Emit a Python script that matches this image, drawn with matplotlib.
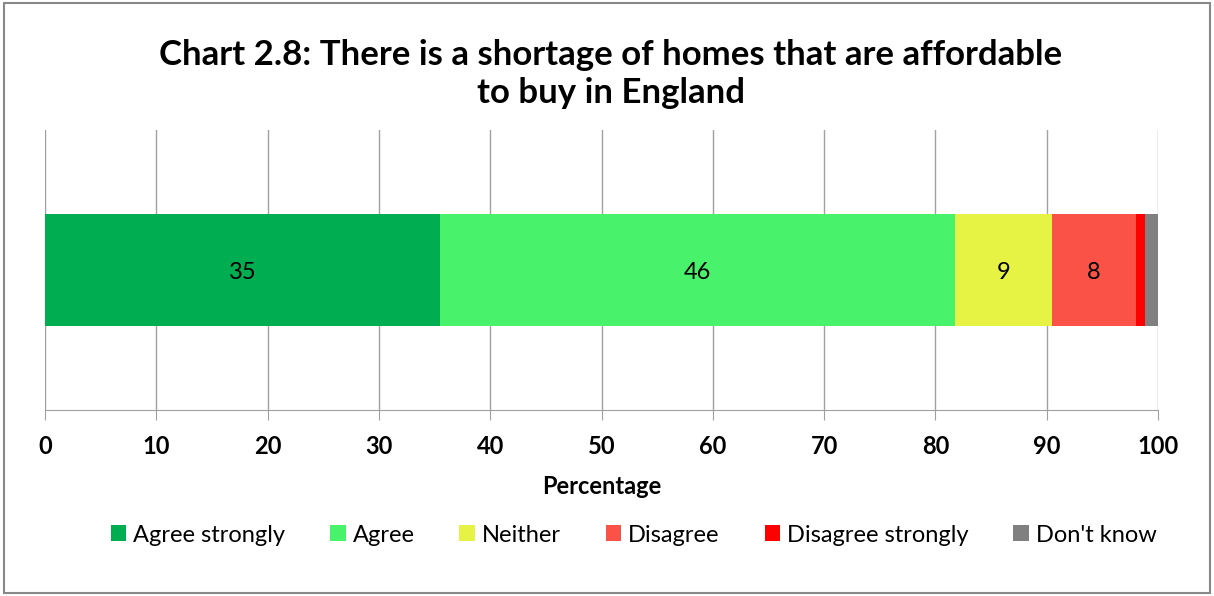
import matplotlib.pyplot as plt
from matplotlib.patches import Rectangle

categories = ['Agree strongly', 'Agree', 'Neither', 'Disagree', 'Disagree strongly', "Don't know"]
values = [35.5, 46.3, 8.7, 7.5, 0.8, 1.2]
labels = ['35', '46', '9', '8', '', '']
colors = ['#00AD50', '#48F26A', '#E6F244', '#FA5246', '#FF0000', '#808080']
ticks = [0, 10, 20, 30, 40, 50, 60, 70, 80, 90, 100]

plt.rcParams['font.family'] = ['Lato', 'DejaVu Sans']

fig = plt.figure(figsize=(12.14, 5.96), dpi=100)
ax = fig.add_axes([45 / 1214, 1 - 410 / 596, 1113 / 1214, 280 / 596])

left = 0
for cat, v, lab, c in zip(categories, values, labels, colors):
    ax.barh(0, v, left=left, height=0.4, color=c, label=cat, zorder=3)
    if lab:
        ax.text(left + v / 2, -0.01, lab, ha='center', va='center', fontsize=17, zorder=4)
    left += v

ax.set_xlim(0, 100)
ax.set_ylim(-0.5, 0.5)
ax.set_xticks(ticks)
ax.set_xticklabels([str(t) for t in ticks], fontsize=17, fontweight='bold')
ax.set_yticks([])
ax.grid(axis='x', color='#A0A0A0', linewidth=1, zorder=0)
for s in ['top', 'right', 'left']:
    ax.spines[s].set_visible(False)
ax.spines['bottom'].set_color('#A0A0A0')
ax.tick_params(axis='x', length=7, color='#A0A0A0', pad=11)
ax.set_xlabel('Percentage', fontsize=17, fontweight='bold', labelpad=12)

fig.text(0.503, 1 - 74 / 596,
         'Chart 2.8: There is a shortage of homes that are affordable\nto buy in England',
         ha='center', va='center', fontsize=25, fontweight='bold', linespacing=1.25)

fig.legend(loc='center', bbox_to_anchor=(0.522, 1 - 535 / 596), ncol=6, frameon=False,
           fontsize=17, handlelength=0.65, handleheight=0.65, handletextpad=0.3,
           columnspacing=1.9)

fig.patches.append(Rectangle((4 / 1214, 3 / 596), 1206 / 1214, 590 / 596,
                             transform=fig.transFigure, fill=False,
                             edgecolor='#888888', linewidth=1.5))

fig.savefig('out.png', dpi=100)
